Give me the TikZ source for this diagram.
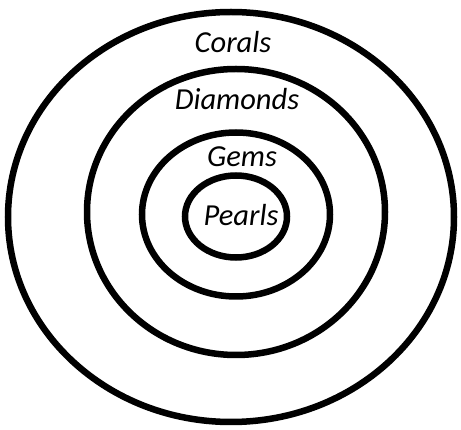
\documentclass[tikz,border=0pt]{standalone}
\usepackage{fontspec}
\setmainfont{Carlito}
\usepackage{tikz}
\usetikzlibrary{positioning}

\begin{document}
\begin{tikzpicture}[
    x=1pt, y=-1pt,
    ring/.style={draw=black, line width=6.5pt},
    lbl/.style={font=\fontsize{30.5}{32}\selectfont\itshape, inner sep=0pt}
]
    \useasboundingbox (0,0) rectangle (461,430);

    % Rings, outer to inner
    \draw[ring] (231,217) ellipse (223 and 205);
    \draw[ring] (236,212) ellipse (149 and 143);
    \draw[ring] (236,214.5) ellipse (94 and 82);
    \draw[ring] (236,216.5) ellipse (51 and 41);

    % Labels
    \node[lbl] (corals) at (233,42) {Corals};
    \node[lbl] (diamonds) at (237,99) {Diamonds};
    \node[lbl] (gems) at (242,157) {Gems};
    \node[lbl] (pearls) at (241,215) {Pearls};
\end{tikzpicture}
\end{document}
